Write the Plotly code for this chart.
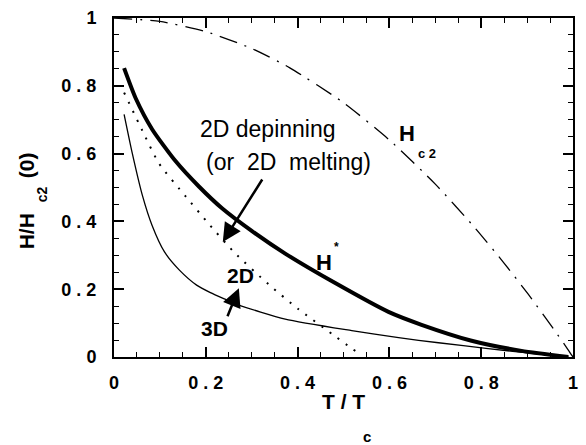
import plotly.graph_objects as go

# Reduced temperature T/Tc and reduced field H/Hc2(0) for each boundary
t_hc2 = [0.0, 0.1, 0.2, 0.3, 0.383, 0.5, 0.6, 0.7, 0.787, 0.848, 0.902, 0.957, 0.989, 1.0]
h_hc2 = [1.0, 0.99, 0.96, 0.91, 0.853, 0.75, 0.64, 0.51, 0.38, 0.28, 0.186, 0.084, 0.022, 0.0]

t_hstar = [0.022, 0.047, 0.083, 0.134, 0.185, 0.236, 0.3, 0.373, 0.482, 0.598, 0.67, 0.779, 0.888, 0.99]
h_hstar = [0.852, 0.764, 0.672, 0.578, 0.503, 0.438, 0.372, 0.305, 0.218, 0.133, 0.095, 0.048, 0.018, 0.0]

t_2d = [0.022, 0.062, 0.098, 0.156, 0.207, 0.261, 0.337, 0.402, 0.475, 0.518, 0.535]
h_2d = [0.78, 0.667, 0.571, 0.474, 0.392, 0.31, 0.214, 0.141, 0.068, 0.025, 0.01]

t_3d = [0.022, 0.04, 0.062, 0.083, 0.11, 0.142, 0.18, 0.21, 0.243, 0.272, 0.373, 0.518, 0.62, 0.707, 0.815, 0.9, 0.99]
h_3d = [0.716, 0.6, 0.476, 0.388, 0.31, 0.257, 0.212, 0.19, 0.17, 0.153, 0.112, 0.078, 0.057, 0.042, 0.025, 0.012, 0.0]

tick_vals = [0, 0.2, 0.4, 0.6, 0.8, 1]
tick_text = ["0", "0 . 2", "0 . 4", "0 . 6", "0 . 8", "1"]

FONT = "Liberation Sans"
INK = "black"
NB = "\u00a0"

fig = go.Figure()
fig.add_trace(go.Scatter(x=t_hc2, y=h_hc2, mode="lines",
                         line=dict(color=INK, width=1.3, dash="18px,8px,2px,8px",
                                   shape="spline", smoothing=0.6)))
fig.add_trace(go.Scatter(x=t_hstar, y=h_hstar, mode="lines",
                         line=dict(color=INK, width=4, shape="spline", smoothing=0.6)))
fig.add_trace(go.Scatter(x=t_2d, y=h_2d, mode="lines",
                         line=dict(color=INK, width=2, dash="2px,8px", shape="spline", smoothing=0.6)))
fig.add_trace(go.Scatter(x=t_3d, y=h_3d, mode="lines",
                         line=dict(color=INK, width=1.3, shape="spline", smoothing=0.6)))

axis_common = dict(
    range=[0, 1], tickvals=tick_vals, ticktext=tick_text,
    ticks="inside", ticklen=10, tickwidth=1.5, tickcolor=INK,
    minor=dict(dtick=0.05, ticks="inside", ticklen=5, tickwidth=1.2, tickcolor=INK),
    showline=True, linecolor=INK, linewidth=2, mirror="ticks",
    showgrid=False, zeroline=False,
    tickfont=dict(family=FONT, size=18, weight="bold", color=INK),
)
fig.update_xaxes(**axis_common, ticklabelstandoff=8)
fig.update_yaxes(**axis_common, ticklabelstandoff=12)


def label(x, y, text, size, bold=False, xref="x", yref="y", angle=0):
    fig.add_annotation(x=x, y=y, xref=xref, yref=yref, text=text, showarrow=False,
                       textangle=angle, xanchor="center", yanchor="middle",
                       font=dict(family=FONT, size=size, color=INK,
                                 weight="bold" if bold else "normal"))


def arrow(x0, y0, x1, y1):
    fig.add_annotation(x=x1, y=y1, ax=x0, ay=y0, xref="x", yref="y", axref="x", ayref="y",
                       text="", showarrow=True, arrowhead=2, arrowsize=1.5,
                       arrowwidth=2.5, arrowcolor=INK, standoff=0, startstandoff=0)


# Curve labels
label(0.336, 0.672, "2D depinning", 23)
label(0.381, 0.575, f"(or{NB}{NB}2D{NB}{NB}melting)", 23)
arrow(0.325, 0.528, 0.237, 0.339)
label(0.458, 0.28, "H", 22, bold=True)
label(0.484, 0.325, "*", 12, bold=True)
label(0.276, 0.241, "2D", 21, bold=True)
label(0.22, 0.084, "3D", 21, bold=True)
arrow(0.246, 0.116, 0.272, 0.203)
label(0.638, 0.66, "H", 22, bold=True)
label(0.681, 0.6, "c 2", 13, bold=True)

# Axis titles assembled from pieces so the subscripts sit low
label(0.5, -0.13, "T / T", 21, bold=True, xref="x", yref="paper")
label(0.552, -0.235, "c", 15, bold=True, xref="x", yref="paper")
label(-0.19, 0.37, "H/H", 21, bold=True, xref="paper", yref="paper", angle=-90)
label(-0.157, 0.48, "c2", 14, bold=True, xref="paper", yref="paper", angle=-90)
label(-0.19, 0.565, "(0)", 21, bold=True, xref="paper", yref="paper", angle=-90)

fig.update_layout(
    width=586, height=445,
    margin=dict(l=114, r=8, t=12, b=88),
    paper_bgcolor="white", plot_bgcolor="white",
    showlegend=False,
)

fig.write_html("out.html")
